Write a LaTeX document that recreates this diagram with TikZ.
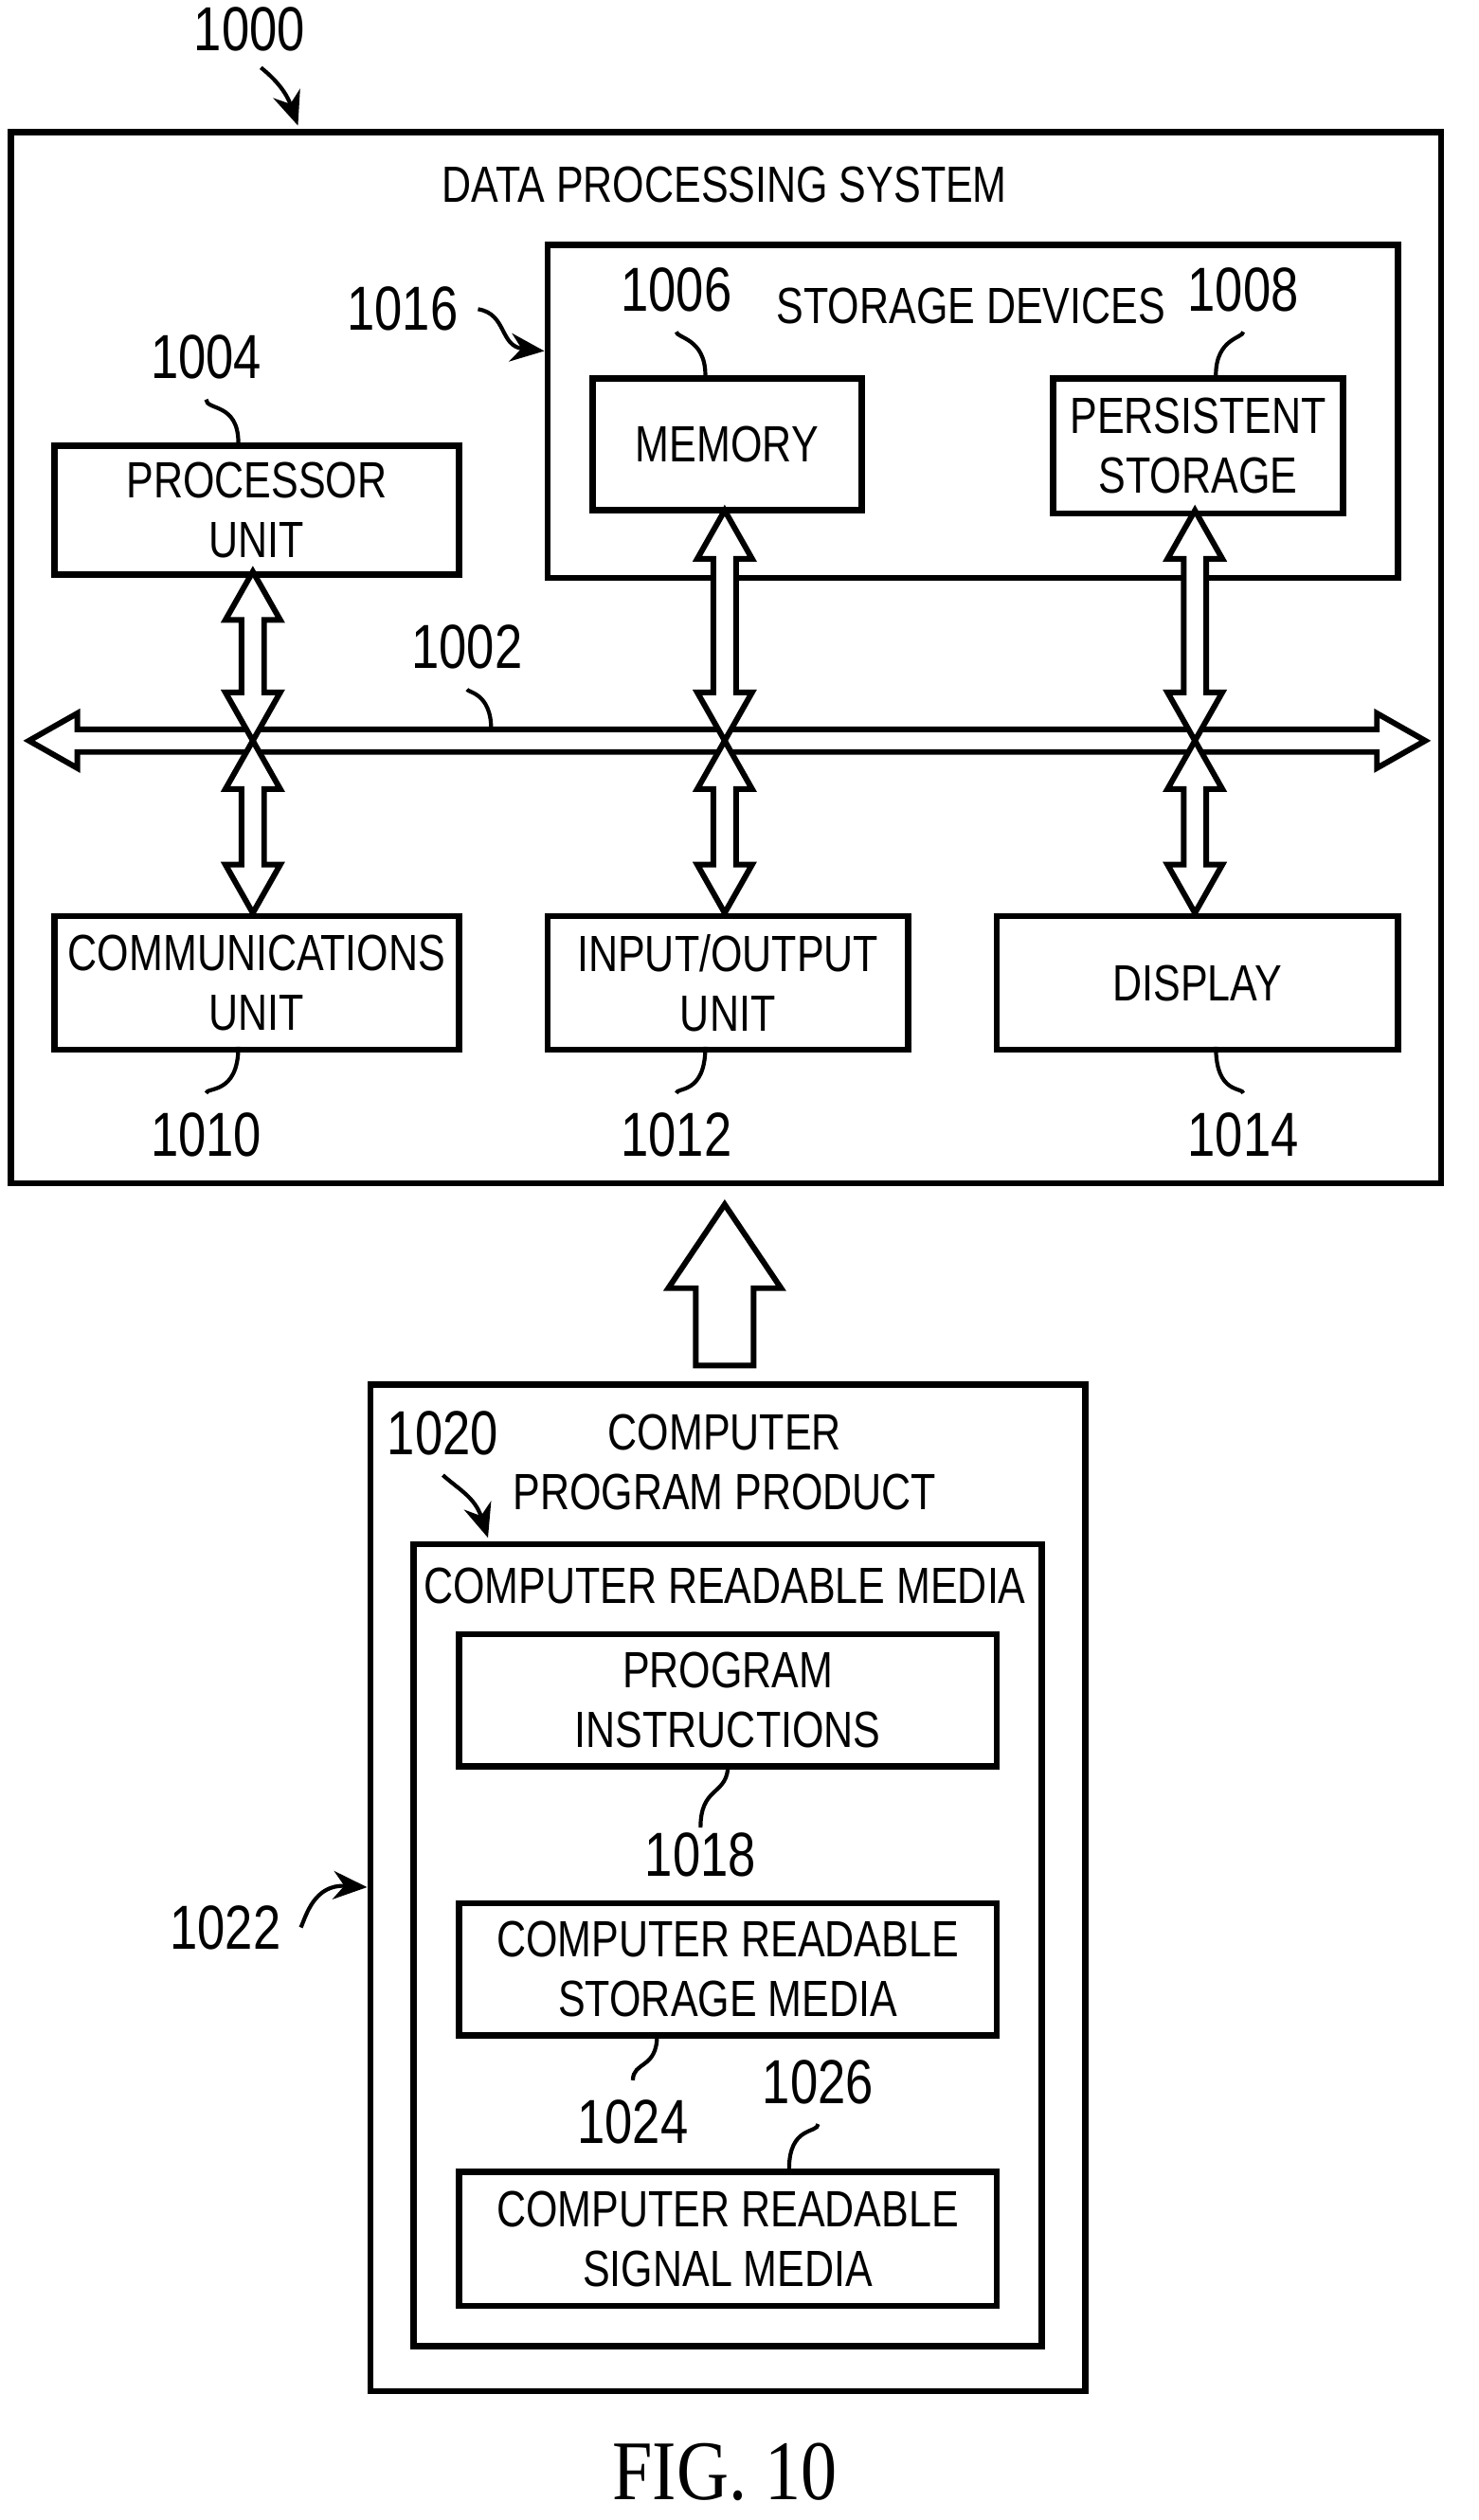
\documentclass[tikz,border=0pt]{standalone}
\usepackage{fontspec}
\setmainfont[FakeStretch=0.8]{Liberation Sans}
\newfontfamily\figfont[FakeStretch=0.85]{Liberation Serif}
\usetikzlibrary{calc,arrows.meta}

\tikzset{
	blk/.style={draw, line width=1.1pt, align=center, inner sep=0pt, font=\fontsize{9}{10.5}\selectfont},
	num/.style={font=\fontsize{11}{12}\selectfont},
	lead/.style={line width=0.7pt},
	ptr/.style={line width=0.7pt, -{Stealth[length=6pt,width=5pt]}},
	hol/.style={draw, line width=1pt, fill=white}
}
% vertical hollow double arrow: x, y top, y bottom
\newcommand{\vdarrow}[3]{
	\draw[hol] (#1,#2) -- (#1+.17,#2-.3) -- (#1+.07,#2-.3) -- (#1+.07,#3+.3) -- (#1+.17,#3+.3) -- (#1,#3)
		-- (#1-.17,#3+.3) -- (#1-.07,#3+.3) -- (#1-.07,#2-.3) -- (#1-.17,#2-.3) -- cycle;
}

\begin{document}
\begin{tikzpicture}
	\useasboundingbox (0,0) rectangle (9.18,-15.65);
	
	% data processing system
	\node[blk, minimum width=8.88cm, minimum height=6.53cm, anchor=north west] (dps) at (.05,-.8) {};
	\node[font=\fontsize{9}{10.5}\selectfont] (dpst) at (4.5,-1.15) {DATA PROCESSING SYSTEM};
	
	\node[blk, minimum width=5.28cm, minimum height=2.07cm, anchor=north west] (stor) at (3.38,-1.5) {};
	\node[font=\fontsize{9}{10.5}\selectfont] (stort) at (6.03,-1.9) {STORAGE DEVICES};
	
	\node[blk, minimum width=1.67cm, minimum height=.82cm, anchor=north west] (mem) at (3.66,-2.33) {MEMORY};
	\node[blk, minimum width=1.8cm, minimum height=.84cm, anchor=north west] (pers) at (6.52,-2.33) {PERSISTENT\\STORAGE};
	\node[blk, minimum width=2.51cm, minimum height=.8cm, anchor=north west] (proc) at (.32,-2.75) {PROCESSOR\\UNIT};
	
	\node[blk, minimum width=2.51cm, minimum height=.83cm, anchor=north west] (comm) at (.32,-5.67) {COMMUNICATIONS\\UNIT};
	\node[blk, minimum width=2.24cm, minimum height=.83cm, anchor=north west] (io) at (3.38,-5.67) {INPUT/OUTPUT\\UNIT};
	\node[blk, minimum width=2.49cm, minimum height=.83cm, anchor=north west] (disp) at (6.17,-5.67) {DISPLAY};
	
	% bus
	\coordinate (busl) at (.18,-4.6);
	\coordinate (busr) at (8.85,-4.6);
	\draw[hol] (busl) -- (.48,-4.43) -- (.48,-4.53) -- (8.55,-4.53) -- (8.55,-4.43) -- (busr)
		-- (8.55,-4.77) -- (8.55,-4.67) -- (.48,-4.67) -- (.48,-4.77) -- cycle;
	
	\vdarrow{1.57}{-3.55}{-4.6}
	\vdarrow{1.57}{-4.6}{-5.67}
	\vdarrow{4.5}{-3.17}{-4.6}
	\vdarrow{4.5}{-4.6}{-5.67}
	\vdarrow{7.42}{-3.17}{-4.6}
	\vdarrow{7.42}{-4.6}{-5.67}
	
	% reference numbers
	\node[num] (n1000) at (1.55,-.18) {1000};
	\draw[ptr] (1.62,-.42) .. controls (1.72,-.5) and (1.78,-.58) .. (1.85,-.78);
	\node[num] (n1016) at (2.5,-1.92) {1016};
	\draw[ptr] (n1016.east) .. controls (3.15,-1.95) and (3.1,-2.15) .. (stor.west |- 0,-2.18);
	\node[num] (n1006) at (4.2,-1.8) {1006};
	\draw[lead] (n1006.south) .. controls (4.2,-2.1) and (4.38,-2.1) .. (4.38,-2.33);
	\node[num] (n1008) at (7.72,-1.8) {1008};
	\draw[lead] (n1008.south) .. controls (7.72,-2.1) and (7.55,-2.1) .. (7.55,-2.33);
	\node[num] (n1004) at (1.28,-2.22) {1004};
	\draw[lead] (n1004.south) .. controls (1.28,-2.55) and (1.48,-2.5) .. (1.48,-2.75);
	\node[num] (n1002) at (2.9,-4.02) {1002};
	\draw[lead] (n1002.south) .. controls (2.9,-4.3) and (3.05,-4.3) .. (3.05,-4.53);
	\node[num] (n1010) at (1.28,-7.05) {1010};
	\draw[lead] (n1010.north) .. controls (1.28,-6.75) and (1.48,-6.8) .. (1.48,-6.5);
	\node[num] (n1012) at (4.2,-7.05) {1012};
	\draw[lead] (n1012.north) .. controls (4.2,-6.75) and (4.38,-6.8) .. (4.38,-6.5);
	\node[num] (n1014) at (7.72,-7.05) {1014};
	\draw[lead] (n1014.north) .. controls (7.72,-6.75) and (7.55,-6.8) .. (7.55,-6.5);
	
	% transfer arrow
	\draw[hol] (4.5,-7.48) -- (4.85,-8.0) -- (4.68,-8.0) -- (4.68,-8.48) -- (4.32,-8.48) -- (4.32,-8.0) -- (4.15,-8.0) -- cycle;
	
	% computer program product
	\node[blk, minimum width=4.44cm, minimum height=6.25cm, anchor=north west] (cpp) at (2.28,-8.58) {};
	\node[font=\fontsize{9}{10.5}\selectfont, align=center] (cppt) at (4.5,-9.08) {COMPUTER\\PROGRAM PRODUCT};
	\node[blk, minimum width=3.9cm, minimum height=4.98cm, anchor=north west] (crm) at (2.55,-9.57) {};
	\node[font=\fontsize{9}{10.5}\selectfont] (crmt) at (4.5,-9.85) {COMPUTER READABLE MEDIA};
	
	\node[blk, minimum width=3.34cm, minimum height=.82cm, anchor=north west] (prog) at (2.83,-10.13) {PROGRAM\\INSTRUCTIONS};
	\node[blk, minimum width=3.34cm, minimum height=.82cm, anchor=north west] (crsm) at (2.83,-11.8) {COMPUTER READABLE\\STORAGE MEDIA};
	\node[blk, minimum width=3.34cm, minimum height=.83cm, anchor=north west] (crsig) at (2.83,-13.47) {COMPUTER READABLE\\SIGNAL MEDIA};
	
	\node[num] (n1020) at (2.75,-8.9) {1020};
	\draw[ptr] (n1020.south) .. controls (2.85,-9.25) and (2.95,-9.3) .. (3.03,-9.55);
	\node[num] (n1018) at (4.35,-11.52) {1018};
	\draw[lead] (prog.south) .. controls (4.5,-11.15) and (4.35,-11.1) .. (4.35,-11.35);
	\node[num] (n1024) at (3.93,-13.18) {1024};
	\draw[lead] (4.08,-12.64) .. controls (4.08,-12.85) and (3.93,-12.8) .. (n1024.north);
	\node[num] (n1026) at (5.08,-12.93) {1026};
	\draw[lead] (n1026.south) .. controls (5.08,-13.25) and (4.9,-13.2) .. (crsig.north -| 4.9,0);
	\node[num] (n1022) at (1.4,-11.97) {1022};
	\draw[ptr] (n1022.east) .. controls (1.9,-11.9) and (1.95,-11.7) .. (cpp.west |- 0,-11.72);
	
	\node[font=\figfont\fontsize{15}{16}\selectfont] (fig) at (4.5,-15.35) {FIG. 10};
\end{tikzpicture}
\end{document}
